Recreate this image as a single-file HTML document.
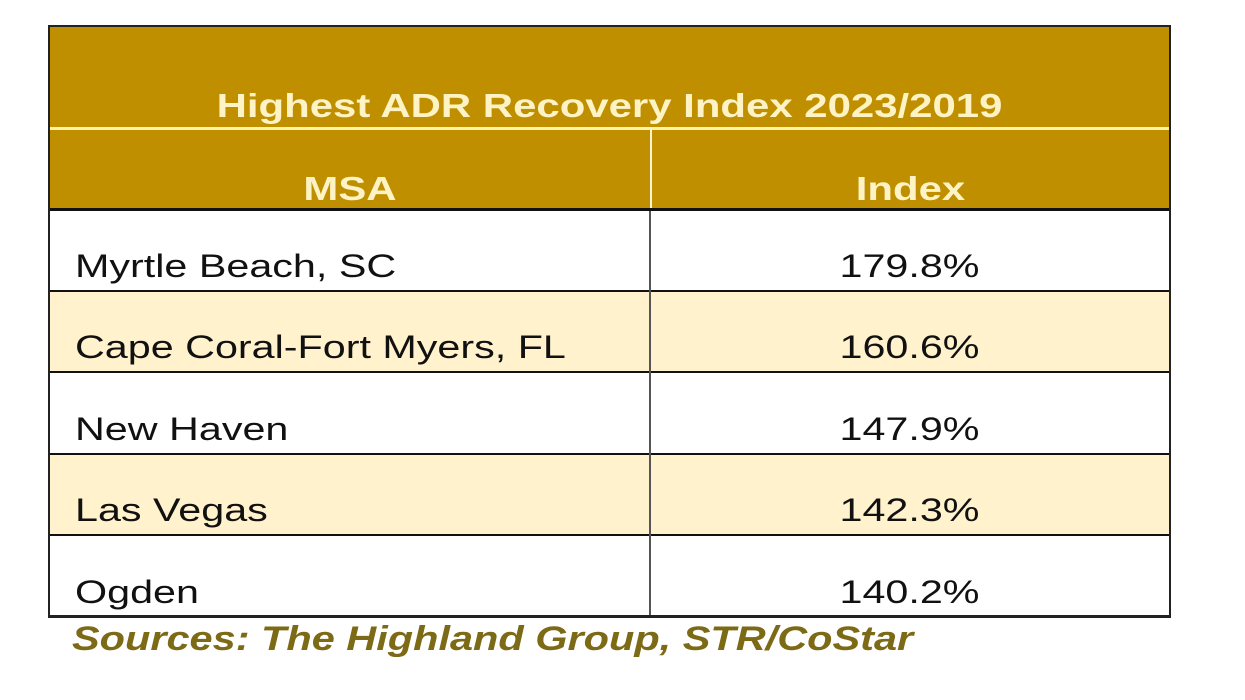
<!DOCTYPE html>
<html><head><meta charset="utf-8"><style>
body{margin:0;width:1245px;height:700px;background:#fff;position:relative;overflow:hidden;font-family:"Liberation Sans",Arial,sans-serif}
.a{position:absolute}
.hdr{background:#bf8f00;color:#fdf3c4;font-weight:bold;font-size:33px;text-align:center}
.hdr span{display:block;transform:scaleX(1.27);transform-origin:center}
.row{left:49px;width:1121px;height:81px;border-bottom:2px solid #111;box-sizing:border-box}
.cell{position:absolute;bottom:4px;font-size:32px;color:#111;line-height:40px;transform:scaleX(1.29);transform-origin:left}
</style></head><body>
<div class="a hdr" style="left:50px;top:27px;width:1119px;height:100px;line-height:30px"><span style="position:absolute;left:0;right:0;top:64px">Highest ADR Recovery Index 2023/2019</span></div>
<div class="a" style="left:49px;top:127px;width:1121px;height:3px;background:#fff3a8"></div>
<div class="a hdr" style="left:50px;top:130px;width:600px;height:79px"><span style="position:absolute;left:0;right:0;top:41px;line-height:36px">MSA</span></div>
<div class="a hdr" style="left:652px;top:130px;width:517px;height:79px"><span style="position:absolute;left:0;right:0;top:41px;line-height:36px">Index</span></div>
<div class="a" style="left:650px;top:130px;width:2px;height:80px;background:#fff3d0"></div>
<div class="a" style="left:49px;top:208px;width:1121px;height:3px;background:#111"></div>
<div id="rows"></div>
<div class="a" style="left:649px;top:211px;width:2px;height:405px;background:#555"></div>
<div class="a" style="left:48px;top:25px;width:1123px;height:593px;border:2px solid #222;border-bottom-width:3px;box-sizing:border-box"></div>
<div class="a" style="left:72px;top:620px;font-size:34px;font-weight:bold;font-style:italic;color:#7d6a16;transform:scaleX(1.22);transform-origin:left">Sources: The Highland Group, STR/CoStar</div>
<script>
const msas=["Myrtle Beach, SC","Cape Coral-Fort Myers, FL","New Haven","Las Vegas","Ogden"];
const indexValues=["179.8%","160.6%","147.9%","142.3%","140.2%"];
const tops=[211,292,374,455,536];
const c=document.getElementById('rows');
msas.forEach((m,i)=>{
 const r=document.createElement('div');
 r.className='a row';
 
 
 r.style.top=tops[i]+'px';
 r.style.background=i%2?'#fff2cc':'#fff';
 if(i==4){r.style.height='80px';r.style.borderBottom='none';}
 const a=document.createElement('div');
 a.className='cell';
 
 
 a.style.left='26px';a.textContent=m;
 const b=document.createElement('div');
 b.className='cell';
 
 
 b.style.left='602px';b.style.width='517px';b.style.textAlign='center';b.style.transformOrigin='center';b.textContent=indexValues[i];
 r.appendChild(a);r.appendChild(b);c.appendChild(r);
});
</script>
</body></html>
